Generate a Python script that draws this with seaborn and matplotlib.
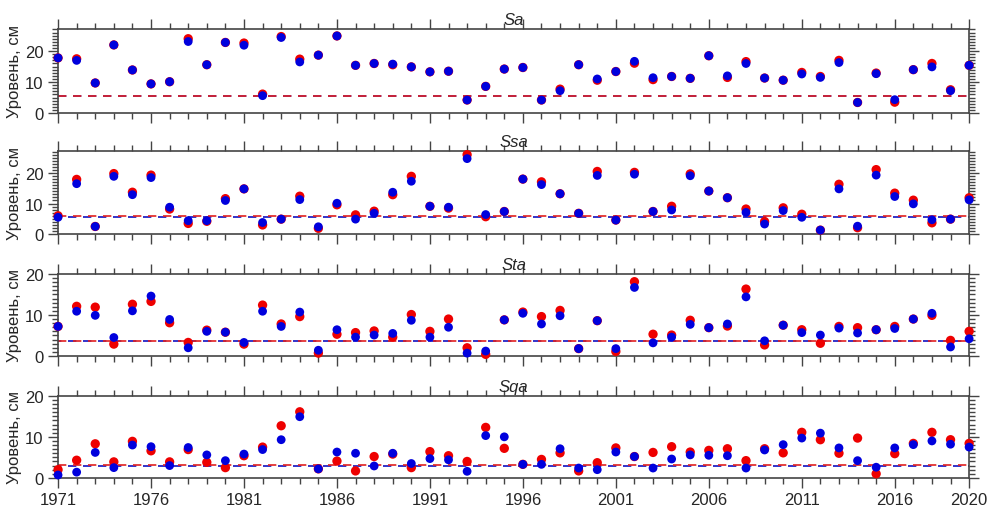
import numpy as np
import pandas as pd
import matplotlib
matplotlib.use('Agg')
import matplotlib.pyplot as plt
from matplotlib.ticker import MultipleLocator
import seaborn as sns

# Years
years = list(range(1971, 2021))

# Sa
sa_red = [17.8, 17.5, 9.7, 22.0, 13.9, 9.4, 10.1, 24.0, 15.6, 22.8,
          22.6, 6.1, 24.7, 17.4, 18.7, 24.9, 15.4, 16.0, 15.6, 14.9,
          13.3, 13.5, 4.2, 8.6, 14.2, 14.7, 4.2, 7.7, 15.6, 10.6,
          13.4, 16.1, 10.8, 11.8, 11.2, 18.5, 11.5, 16.6, 11.3, 10.6,
          13.1, 11.8, 17.0, 3.4, 12.9, 3.5, 14.0, 16.0, 7.5, 15.4]
sa_blue = [17.8, 17.0, 9.7, 22.0, 13.9, 9.4, 10.1, 23.1, 15.6, 22.8,
           21.9, 5.6, 24.4, 16.5, 18.7, 24.9, 15.4, 16.0, 15.8, 14.9,
           13.3, 13.5, 4.2, 8.6, 14.2, 14.7, 4.2, 7.2, 15.6, 11.0,
           13.4, 16.7, 11.4, 11.8, 11.2, 18.5, 12.0, 16.0, 11.3, 10.6,
           12.6, 11.5, 16.3, 3.4, 12.7, 4.3, 14.0, 14.9, 7.2, 15.4]

# Ssa
ssa_red = [6.0, 17.9, 2.5, 19.8, 13.7, 19.3, 8.2, 3.5, 4.2, 11.6,
           14.8, 3.0, 4.9, 12.4, 1.9, 9.6, 6.3, 7.5, 12.9, 18.9,
           9.1, 8.5, 26.0, 5.7, 7.4, 18.0, 17.1, 13.2, 6.8, 20.5,
           4.6, 20.2, 7.4, 9.1, 19.7, 14.1, 11.9, 8.2, 4.1, 8.6,
           6.5, 1.3, 16.3, 2.1, 21.1, 13.4, 11.1, 3.7, 4.9, 11.9]
ssa_blue = [5.5, 16.5, 2.5, 18.9, 12.9, 18.5, 8.8, 4.4, 4.4, 11.0,
            14.8, 3.8, 4.9, 11.3, 2.4, 10.1, 4.9, 6.8, 13.7, 17.3,
            9.1, 8.8, 24.7, 6.4, 7.4, 18.0, 16.2, 13.2, 6.8, 19.2,
            4.6, 19.6, 7.4, 7.9, 19.1, 14.1, 11.9, 7.1, 3.3, 7.7,
            5.5, 1.3, 14.8, 2.6, 19.3, 12.3, 9.9, 4.7, 4.9, 11.2]

# Sta
sta_red = [7.2, 12.1, 11.9, 2.9, 12.6, 13.3, 8.1, 3.3, 6.3, 5.8,
           2.9, 12.4, 7.8, 9.6, 0.7, 5.3, 5.7, 6.1, 4.6, 10.1,
           6.0, 9.0, 2.0, 0.4, 8.8, 10.7, 9.6, 11.1, 1.8, 8.6,
           1.1, 18.1, 5.3, 5.1, 8.7, 6.9, 7.3, 16.3, 2.7, 7.5,
           6.4, 3.1, 7.2, 6.9, 6.4, 7.2, 9.0, 9.9, 3.8, 6.0]
sta_blue = [7.2, 10.9, 9.9, 4.5, 11.0, 14.6, 8.9, 2.0, 6.0, 5.8,
            3.3, 10.9, 7.2, 10.7, 1.4, 6.4, 4.6, 5.1, 5.5, 8.7,
            4.6, 7.0, 0.7, 1.2, 8.8, 10.4, 7.8, 9.8, 1.8, 8.6,
            1.8, 16.7, 3.2, 4.6, 7.7, 6.9, 7.8, 14.4, 3.7, 7.5,
            5.7, 5.1, 6.8, 5.6, 6.4, 6.7, 9.0, 10.4, 2.2, 4.2]

# Sqa
sqa_red = [2.0, 4.3, 8.3, 3.9, 8.9, 6.6, 3.9, 6.9, 3.8, 2.5,
           5.4, 7.5, 12.7, 16.1, 2.2, 4.1, 1.7, 5.2, 5.8, 2.5,
           6.4, 5.4, 4.0, 12.3, 7.2, 3.3, 4.5, 6.1, 1.7, 3.7,
           7.3, 5.2, 6.2, 7.6, 6.3, 6.7, 7.1, 4.2, 7.1, 6.1,
           11.1, 9.3, 6.0, 9.7, 1.0, 5.9, 8.4, 11.1, 9.3, 8.4]
sqa_blue = [0.7, 1.4, 6.2, 2.5, 8.0, 7.6, 3.0, 7.4, 5.6, 4.2,
            5.8, 6.9, 9.3, 14.9, 2.2, 6.3, 6.0, 2.9, 6.0, 3.5,
            4.7, 4.4, 1.6, 10.3, 10.0, 3.3, 3.3, 7.1, 2.4, 2.0,
            6.3, 5.2, 2.4, 4.6, 5.6, 5.5, 5.4, 2.4, 6.8, 8.1,
            9.7, 10.9, 7.3, 4.2, 2.6, 7.3, 8.1, 9.0, 8.2, 7.5]

# mean levels (dashed lines)
names = ['Sa', 'Ssa', 'Sta', 'Sqa']
mean_red = [5.4, 5.8, 3.6, 3.1]
mean_blue = [5.4, 5.6, 3.6, 3.0]
ymax = [27.2, 27.2, 20, 20]

reds = [sa_red, ssa_red, sta_red, sqa_red]
blues = [sa_blue, ssa_blue, sta_blue, sqa_blue]

sns.set_style('ticks')
plt.rcParams['font.family'] = ['Liberation Sans', 'DejaVu Sans']

fig = plt.figure(figsize=(9.89, 5.10), dpi=100)
# axes positions [left, bottom, width, height] in figure fraction
boxes = [[0.0587, 0.7765, 0.9212, 0.165],
         [0.0587, 0.539, 0.9212, 0.163],
         [0.0587, 0.300, 0.9212, 0.161],
         [0.0587, 0.061, 0.9212, 0.161]]

xticks = [1971, 1976, 1981, 1986, 1991, 1996, 2001, 2006, 2011, 2016, 2020]

for i in range(4):
    ax = fig.add_axes(boxes[i])
    df = pd.DataFrame({'year': years, 'red': reds[i], 'blue': blues[i]})
    # in the first panel the blue mean line is hidden under the red one
    blue_offset = 0 if i == 0 else 3
    ax.axhline(mean_blue[i], color='#1010c0', ls=(blue_offset, (5, 4)), lw=1.2, zorder=1)
    ax.axhline(mean_red[i], color='#e02020', ls=(0, (5, 4)), lw=1.2, zorder=1)
    sns.scatterplot(data=df, x='year', y='red', color='#ee0000', s=45,
                    edgecolor='none', ax=ax, clip_on=False, zorder=3)
    sns.scatterplot(data=df, x='year', y='blue', color='#0000dd', s=40,
                    edgecolor='none', ax=ax, clip_on=False, zorder=4)
    ax.set_xlim(1971, 2020)
    ax.set_ylim(0, ymax[i])
    ax.set_xticks(xticks)
    ax.xaxis.set_minor_locator(MultipleLocator(1))
    ax.set_yticks([0, 10, 20])
    ax.yaxis.set_minor_locator(MultipleLocator(1))
    ax.tick_params(which='both', direction='out', top=True, right=True,
                   labelright=False, labeltop=False, color='#444444',
                   labelsize=12, width=1)
    ax.tick_params(which='major', length=7)
    ax.tick_params(which='minor', length=4)
    for sp in ax.spines.values():
        sp.set_linewidth(1.2)
        sp.set_color('#444444')
    if i < 3:
        ax.set_xticklabels([])
    ax.set_xlabel('')
    ax.set_ylabel('Уровень, см', fontsize=12, labelpad=2)
    ax.text(0.5, 1.02, names[i], transform=ax.transAxes, ha='center',
            va='bottom', fontsize=12, style='italic')

fig.savefig('out.png', dpi=100)
